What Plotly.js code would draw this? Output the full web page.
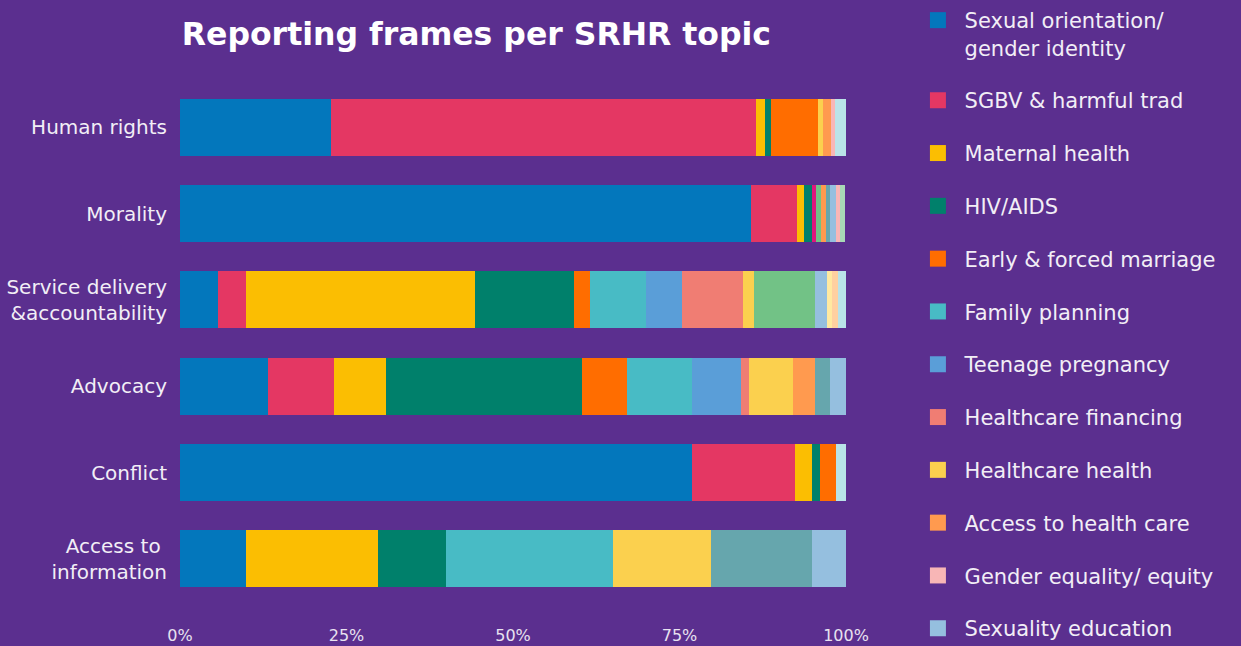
<!DOCTYPE html>
<html>
<head>
<meta charset="utf-8">
<script src="https://cdn.plot.ly/plotly-3.0.1.min.js"></script>
<style>html,body{margin:0;padding:0;background:#5B2F8F;}#chart{width:1241px;height:646px;}</style>
</head>
<body>
<div id="chart"></div>
<script>
// Categories (top to bottom)
const categories = ["Human rights", "Morality", "Service delivery<br>&accountability", "Advocacy", "Conflict", "Access to <br>information"];
const tickLabels = ["0%", "25%", "50%", "75%", "100%"];
const tickValues = [0, 25, 50, 75, 100];

// Series values (% per category, same order as categories)
const sexualOrientation = [22.6, 85.7, 5.7, 13.2, 76.9, 9.9];
const sgbv              = [63.9, 6.9, 4.2, 9.9, 15.5, 0];
const maternalHealth    = [1.3, 1.05, 34.4, 7.8, 2.45, 19.85];
const hivAids           = [0.9, 1.2, 14.8, 29.4, 1.3, 10.2];
const otherMagenta      = [0, 0.6, 0, 0, 0, 0];
const earlyMarriage     = [7.1, 0, 2.45, 6.8, 2.4, 0];
const familyPlanning    = [0, 0, 8.4, 9.85, 0, 25.1];
const teenagePregnancy  = [0, 0, 5.4, 7.3, 0, 0];
const healthFinancing   = [0, 0, 9.2, 1.25, 0, 0];
const healthcareHealth  = [0.7, 0, 1.65, 6.5, 0, 14.7];
const otherGreen        = [0, 0.75, 9.1, 0, 0, 0];
const accessHealthCare  = [1.2, 0.75, 0, 3.3, 0, 0];
const otherTeal         = [0, 0.6, 0, 2.25, 0, 15.1];
const sexualityEd       = [0, 0.9, 1.85, 2.4, 0, 5.2];
const genderEquality    = [0.6, 0.6, 0, 0, 0, 0];
const otherPaleGreen    = [0, 0.75, 0, 0, 0, 0];
const otherPaleYellow   = [0, 0, 0.8, 0, 0, 0];
const otherPeach        = [0, 0, 0.8, 0, 0, 0];
const otherLightCyan    = [1.65, 0, 1.25, 0, 1.4, 0];

const series = [
  {name: "Sexual orientation/<br>gender identity", values: sexualOrientation, color: "#0377BC", legend: true, rank: 1},
  {name: "SGBV & harmful trad", values: sgbv, color: "#E43763", legend: true, rank: 2},
  {name: "Maternal health", values: maternalHealth, color: "#FBBE02", legend: true, rank: 3},
  {name: "HIV/AIDS", values: hivAids, color: "#00806B", legend: true, rank: 4},
  {name: "Other", values: otherMagenta, color: "#E0167E", legend: false},
  {name: "Early & forced marriage", values: earlyMarriage, color: "#FF6D00", legend: true, rank: 5},
  {name: "Family planning", values: familyPlanning, color: "#48BBC5", legend: true, rank: 6},
  {name: "Teenage pregnancy", values: teenagePregnancy, color: "#5A9ED8", legend: true, rank: 7},
  {name: "Healthcare financing", values: healthFinancing, color: "#F07D73", legend: true, rank: 8},
  {name: "Healthcare health", values: healthcareHealth, color: "#FBD04E", legend: true, rank: 9},
  {name: "Other", values: otherGreen, color: "#72C286", legend: false},
  {name: "Access to health care", values: accessHealthCare, color: "#FF9A4F", legend: true, rank: 10},
  {name: "Other", values: otherTeal, color: "#66A6AD", legend: false},
  {name: "Sexuality education", values: sexualityEd, color: "#95BFDF", legend: true, rank: 12},
  {name: "Gender equality/ equity", values: genderEquality, color: "#F8B6B6", legend: true, rank: 11},
  {name: "Other", values: otherPaleGreen, color: "#A8D9B6", legend: false},
  {name: "Other", values: otherPaleYellow, color: "#FFE9A0", legend: false},
  {name: "Other", values: otherPeach, color: "#FFD0A0", legend: false},
  {name: "Other", values: otherLightCyan, color: "#BAE3E8", legend: false}
];

const traces = [];
series.forEach(s => {
  traces.push({
    type: "bar", orientation: "h", name: s.name.replace("<br>", " "),
    x: s.values, y: categories,
    marker: {color: s.color, line: {width: 0}},
    showlegend: false, hoverinfo: "name+x"
  });
});
// legend entries
series.filter(s => s.legend).sort((a, b) => a.rank - b.rank).forEach(s => {
  traces.push({
    type: "scatter", mode: "markers", name: "\u00A0" + s.name.replace("<br>", "<br>\u00A0"),
    x: [null], y: [null],
    marker: {symbol: "square", size: 16, color: s.color},
    legendgroup: s.name, showlegend: true, hoverinfo: "skip"
  });
});

const FONT = "DejaVu Sans, sans-serif";
const layout = {
  width: 1241, height: 646,
  paper_bgcolor: "#5B2F8F", plot_bgcolor: "#5B2F8F",
  margin: {l: 180, r: 395, t: 84, b: 44, autoexpand: false},
  barmode: "stack", bargap: 0.34,
  font: {family: FONT, color: "#F2EEF6"},
  title: {text: "<b>Reporting frames per SRHR topic</b>", x: 0.1465, xanchor: "left", xref: "container",
          y: 0.947, yanchor: "middle", yref: "container",
          font: {family: FONT, size: 31.5, color: "#FFFFFF"}},
  xaxis: {range: [0, 100], tickvals: tickValues, ticktext: tickLabels, showgrid: false, zeroline: false,
          showline: false, ticks: "", ticklabelstandoff: 22, tickfont: {size: 16, color: "#E8E2F0"}, fixedrange: true},
  yaxis: {type: "category", categoryarray: categories, autorange: "reversed", showgrid: false, zeroline: false,
          showline: false, ticks: "", ticklabelstandoff: 12, tickfont: {size: 20, color: "#F2EEF6"}, fixedrange: true},
  legend: {x: 1.108, xanchor: "left", y: 1.0, yref: "container", yanchor: "top",
           traceorder: "grouped", tracegroupgap: 22.5, valign: "top", maxheight: 646,
           font: {family: FONT, size: 21, color: "#F2EEF6"}, bgcolor: "rgba(0,0,0,0)"},
  showlegend: true
};

Plotly.newPlot("chart", traces, layout, {displayModeBar: false, staticPlot: true});
</script>
</body>
</html>
